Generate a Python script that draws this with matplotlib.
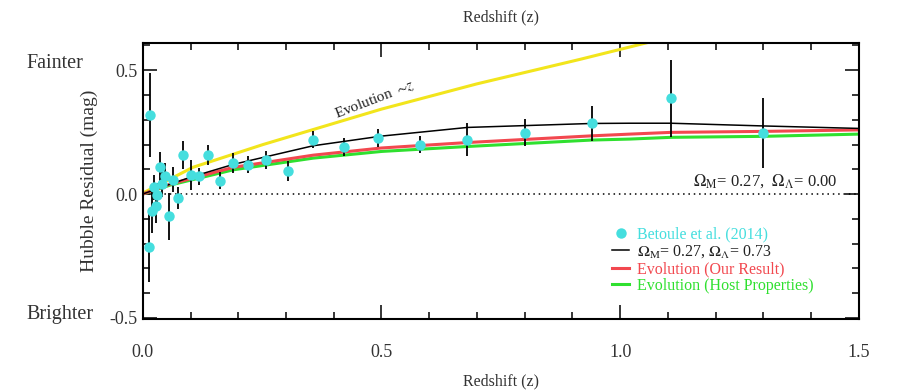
import matplotlib.pyplot as plt
from matplotlib.ticker import MultipleLocator

plt.rcParams['font.family'] = ['Liberation Serif', 'DejaVu Serif']
plt.rcParams['mathtext.fontset'] = 'stix'

# Betoule et al. (2014) binned Hubble residuals
z_data = [0.013, 0.015, 0.020, 0.023, 0.027, 0.030, 0.036, 0.041, 0.047, 0.055,
          0.064, 0.074, 0.085, 0.100, 0.118, 0.137, 0.161, 0.189, 0.221, 0.259,
          0.305, 0.357, 0.421, 0.493, 0.580, 0.680, 0.800, 0.940, 1.106, 1.300]
res_data = [-0.215, 0.320, -0.067, 0.027, -0.047, -0.004, 0.108, 0.040, 0.074, -0.090,
            0.058, -0.016, 0.158, 0.077, 0.071, 0.158, 0.054, 0.125, 0.118, 0.138,
            0.094, 0.220, 0.190, 0.227, 0.200, 0.220, 0.247, 0.285, 0.387, 0.246]
res_err = [0.14, 0.17, 0.09, 0.05, 0.07, 0.05, 0.06, 0.05, 0.05, 0.095,
           0.05, 0.045, 0.055, 0.06, 0.035, 0.04, 0.035, 0.04, 0.035, 0.035,
           0.04, 0.035, 0.038, 0.036, 0.035, 0.065, 0.055, 0.07, 0.155, 0.14]

# model curves, sampled from the figure
z_lcdm = [0.0, 0.05, 0.10, 0.19, 0.357, 0.50, 0.68, 0.94, 1.02, 1.106, 1.30, 1.50]
mu_lcdm = [0.0, 0.035, 0.068, 0.120, 0.195, 0.234, 0.269, 0.285, 0.286, 0.286, 0.275, 0.265]

z_evo = [0.0, 0.057, 0.19, 0.357, 0.50, 0.68, 0.94, 1.02, 1.106, 1.30, 1.50]
mu_evo_ours = [0.0, 0.040, 0.108, 0.157, 0.186, 0.208, 0.235, 0.242, 0.249, 0.253, 0.259]
mu_evo_host = [0.0, 0.036, 0.098, 0.145, 0.172, 0.192, 0.218, 0.222, 0.229, 0.233, 0.242]

z_lin = [0.0, 0.105, 0.252, 0.50, 0.70, 0.916, 1.06, 1.10]
mu_lin = [0.004, 0.108, 0.200, 0.343, 0.445, 0.544, 0.613, 0.630]

cyan = '#45dede'

fig = plt.figure(figsize=(9.04, 3.91), dpi=100)
ax = fig.add_axes([0.158, 0.184, 0.792, 0.706])

ax.axhline(0.0, color='black', ls=(0, (1, 2.5)), lw=1.1)
ax.plot(z_lin, mu_lin, color='#f2e51c', lw=2.2)
ax.plot(z_evo, mu_evo_host, color='#2fe02f', lw=2.2, label='Evolution (Host Properties)')
ax.plot(z_evo, mu_evo_ours, color='#f2484f', lw=2.2, label='Evolution (Our Result)')
ax.plot(z_lcdm, mu_lcdm, color='black', lw=1.1,
        label=r'$\Omega_{\rm M}$= 0.27, $\Omega_\Lambda$= 0.73')
ax.errorbar(z_data, res_data, yerr=res_err, fmt='o', color=cyan, ms=7.5,
            mec='none', ecolor='black', elinewidth=1.3, capsize=0, zorder=5)
ax.plot([], [], 'o', color=cyan, ms=7.5, mec='none', label='Betoule et al. (2014)')

ax.set_xlim(0, 1.5)
ax.set_ylim(-0.505, 0.61)
ax.xaxis.set_major_locator(MultipleLocator(0.5))
ax.xaxis.set_minor_locator(MultipleLocator(0.1))
ax.yaxis.set_major_locator(MultipleLocator(0.5))
ax.yaxis.set_minor_locator(MultipleLocator(0.1))
ax.xaxis.set_major_formatter(plt.FormatStrFormatter('%.1f'))
ax.yaxis.set_major_formatter(plt.FormatStrFormatter('%.1f'))
ax.tick_params(which='both', direction='in', top=True, right=True, labelsize=13,
               width=1.1, labelcolor='#333333')
ax.tick_params(which='major', length=10)
ax.tick_params(which='minor', length=5)
ax.tick_params(axis='x', which='major', pad=18)
ax.tick_params(axis='y', which='major', pad=4)
for s in ax.spines.values():
    s.set_linewidth(1.5)

ax.set_xlabel('Redshift (z)', fontsize=11.5, color='#333333', labelpad=9)
ax.set_ylabel('Hubble Residual (mag)', fontsize=14, color='#333333', labelpad=8)
ax.text(0.5, 1.094, 'Redshift (z)', transform=ax.transAxes, ha='center', va='center',
        fontsize=11.5, color='#333333')
fig.text(26 / 904, 1 - 63 / 391, 'Fainter', ha='left', va='center', fontsize=14.5, color='#333333')
fig.text(26 / 904, 1 - 315 / 391, 'Brighter', ha='left', va='center', fontsize=14.5, color='#333333')

ax.text(0.486, 0.383, r'Evolution $\sim\!z$', rotation=21, ha='center', va='center',
        fontsize=11, color='#222222')
ax.text(1.455, 0.052, r'$\Omega_{\rm M}$= 0.27,  $\Omega_\Lambda$= 0.00', ha='right',
        va='center', fontsize=12, color='#222222')

h, l = ax.get_legend_handles_labels()
order = [3, 2, 1, 0]
leg = ax.legend([h[i] for i in order], [l[i] for i in order], loc='upper left',
                bbox_to_anchor=(0.644, 0.363), frameon=False, fontsize=11.5,
                handlelength=1.1, handletextpad=0.45, labelspacing=0.05, borderpad=0)
for t, c in zip(leg.get_texts(), [cyan, '#222222', '#f2484f', '#2fe02f']):
    t.set_color(c)

fig.savefig('out.png', dpi=100)
